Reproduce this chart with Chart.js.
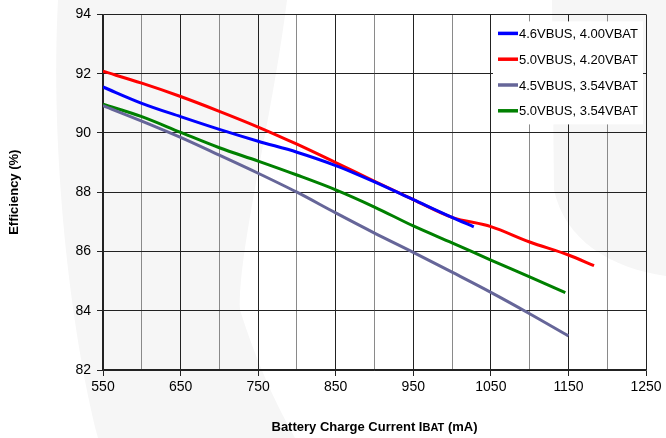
<!DOCTYPE html>
<html>
<head>
<meta charset="utf-8">
<script src="https://cdn.jsdelivr.net/npm/chart.js@4/dist/chart.umd.min.js"></script>
<style>
  html, body { margin: 0; padding: 0; background: #fff; }
  #wrap { width: 666px; height: 438px; }
</style>
</head>
<body>
<div id="wrap"><canvas id="c" width="666" height="438"></canvas></div>
<script>
// Charge current (mA) and efficiency (%) for each supply / battery condition
const seriesLabels = ['4.6VBUS, 4.00VBAT', '5.0VBUS, 4.20VBAT', '4.5VBUS, 3.54VBAT', '5.0VBUS, 3.54VBAT'];

const currentA = [550, 600, 650, 700, 750, 800, 850, 900, 950, 1000, 1028];
const effA     = [91.55, 91.0, 90.55, 90.12, 89.72, 89.35, 88.9, 88.35, 87.75, 87.15, 86.83];

const currentB = [550, 600, 650, 700, 750, 800, 850, 900, 950, 1000, 1050, 1100, 1150, 1183];
const effB     = [92.08, 91.68, 91.23, 90.73, 90.2, 89.62, 89.0, 88.37, 87.75, 87.15, 86.84, 86.32, 85.88, 85.52];

const currentC = [550, 600, 650, 700, 750, 800, 850, 900, 950, 1000, 1050, 1100, 1150];
const effC     = [90.92, 90.4, 89.85, 89.25, 88.64, 88.0, 87.3, 86.62, 85.97, 85.3, 84.62, 83.9, 83.15];

const currentD = [550, 600, 650, 700, 750, 800, 850, 900, 950, 1000, 1050, 1100, 1146];
const effD     = [90.97, 90.55, 90.02, 89.5, 89.05, 88.58, 88.08, 87.5, 86.86, 86.29, 85.71, 85.14, 84.61];

const xTicksMajor = [550, 650, 750, 850, 950, 1050, 1150, 1250];
const yTicks = [82, 84, 86, 88, 90, 92, 94];

const lineColors = ['#0000ff', '#ff0000', '#666699', '#008000'];
const FONT = '"Liberation Sans", Arial, sans-serif';

function pts(xs, ys) { return xs.map((x, i) => ({ x: x, y: ys[i] })); }
const allSeries = [pts(currentA, effA), pts(currentB, effB), pts(currentC, effC), pts(currentD, effD)];

const isMajor = v => xTicksMajor.includes(v);

// faint watermark shapes behind the plot
const watermark = {
  id: 'watermark',
  beforeDraw(chart) {
    const c = chart.ctx;
    c.save();
    c.fillStyle = '#f6f6f6';
    c.beginPath();
    c.moveTo(58, 0); c.lineTo(287, 0);
    c.bezierCurveTo(272, 120, 238, 250, 240, 310);
    c.quadraticCurveTo(262, 380, 295, 438);
    c.lineTo(98, 438);
    c.bezierCurveTo(70, 330, 50, 150, 58, 0);
    c.fill();
    c.beginPath();
    c.moveTo(552, 0); c.lineTo(666, 0); c.lineTo(666, 276);
    c.bezierCurveTo(610, 268, 565, 240, 554, 190);
    c.lineTo(552, 0);
    c.fill();
    c.restore();
  }
};

// legend box inside the upper-right corner of the plot, and the x-axis caption
const annotations = {
  id: 'annotations',
  afterDraw(chart) {
    const c = chart.ctx, a = chart.chartArea;
    const bx = a.right - 153, by = a.top + 7, bw = 150, bh = 103;
    c.save();
    c.fillStyle = '#ffffff';
    c.fillRect(bx, by, bw, bh);
    c.font = '13px ' + FONT;
    c.textBaseline = 'middle';
    chart.data.datasets.forEach((ds, i) => {
      const y = by + 12 + i * 25.8;
      c.strokeStyle = ds.borderColor;
      c.lineWidth = 3.5;
      c.beginPath();
      c.moveTo(bx + 5, y); c.lineTo(bx + 25, y);
      c.stroke();
      c.fillStyle = '#000';
      c.fillText(ds.label, bx + 26, y + 1);
    });

    // x-axis caption with the subscript-style "BAT"
    const parts = [
      { t: 'Battery Charge Current I', f: 'bold 13px ' + FONT },
      { t: 'BAT', f: 'bold 11px ' + FONT },
      { t: ' (mA)', f: 'bold 13px ' + FONT }
    ];
    let total = 0;
    parts.forEach(p => { c.font = p.f; p.w = c.measureText(p.t).width; total += p.w; });
    let x = (a.left + a.right) / 2 - total / 2;
    const yCap = 426;
    c.fillStyle = '#000';
    c.textBaseline = 'alphabetic';
    parts.forEach(p => { c.font = p.f; c.fillText(p.t, x, yCap + 5); x += p.w; });
    c.restore();
  }
};

new Chart(document.getElementById('c'), {
  type: 'scatter',
  data: {
    datasets: allSeries.map((d, i) => ({
      label: seriesLabels[i],
      data: d,
      showLine: true,
      borderColor: lineColors[i],
      backgroundColor: lineColors[i],
      borderWidth: 3,
      pointRadius: 0,
      cubicInterpolationMode: 'monotone'
    }))
  },
  options: {
    responsive: false,
    animation: false,
    layout: { padding: { top: 14, right: 20, left: 0, bottom: 0 } },
    plugins: { legend: { display: false }, tooltip: { enabled: false } },
    scales: {
      x: {
        type: 'linear', min: 550, max: 1250,
        afterBuildTicks: s => { const t = []; for (let v = 550; v <= 1250; v += 50) t.push({ value: v }); s.ticks = t; },
        afterFit: s => { s.height = 68; },
        ticks: {
          autoSkip: false, maxRotation: 0, padding: 3, color: '#000',
          font: { family: FONT, size: 14 },
          callback: v => isMajor(v) ? String(v) : ''
        },
        grid: {
          color: ctx => (ctx.tick && isMajor(ctx.tick.value)) ? '#222' : '#8a8a8a',
          tickColor: ctx => (ctx.tick && isMajor(ctx.tick.value)) ? '#222' : 'rgba(0,0,0,0)',
          tickLength: 6, lineWidth: 1
        },
        border: { color: '#222', width: 1.5 }
      },
      y: {
        type: 'linear', min: 82, max: 94,
        afterBuildTicks: s => { s.ticks = yTicks.map(v => ({ value: v })); },
        afterFit: s => { s.width = 103; },
        ticks: {
          padding: 6, color: '#000',
          font: { family: FONT, size: 14 }
        },
        grid: { color: '#222', tickColor: '#222', tickLength: 6, lineWidth: 1 },
        border: { color: '#222', width: 1.5 },
        title: {
          display: true, text: 'Efficiency (%)', color: '#000',
          font: { family: FONT, size: 13, weight: 'bold' },
          padding: { top: 7, bottom: 4 }
        }
      }
    }
  },
  plugins: [watermark, annotations]
});
</script>
</body>
</html>
